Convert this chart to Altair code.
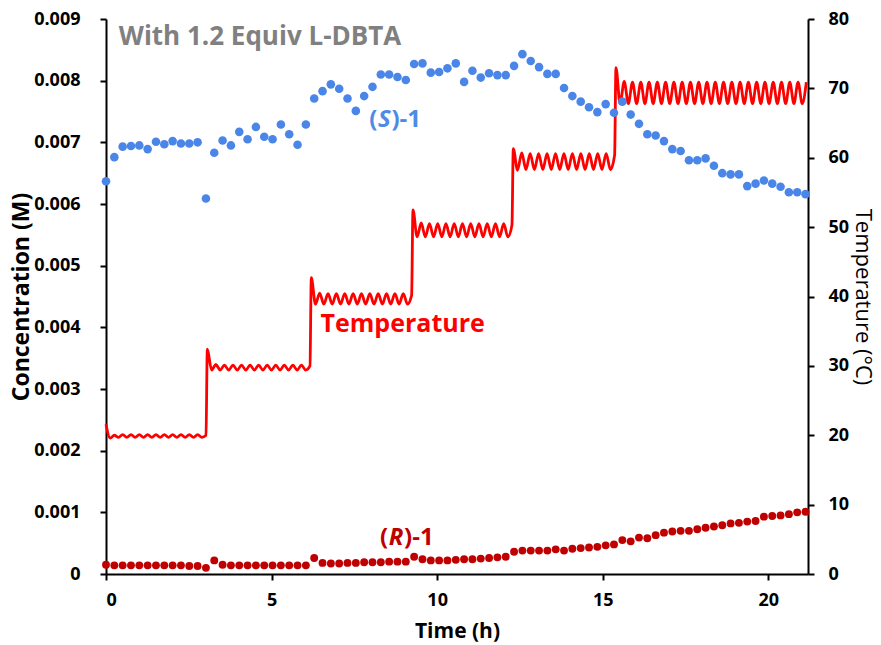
import altair as alt
import pandas as pd

# ---------------- data ----------------
n_samples = 85
sample_step_h = 0.2515
time_h = [round(i * sample_step_h, 4) for i in range(n_samples)]

# (S)-1 concentration, in mM (x 1e-3 M)
s1_mM = [6.37, 6.76, 6.93, 6.94, 6.95, 6.89, 7.01, 6.97, 7.02, 6.98, 6.98, 7.00,
         6.09, 6.83, 7.03, 6.95, 7.17, 7.05, 7.25, 7.09, 7.05, 7.29, 7.13, 6.96, 7.29,
         7.71, 7.83, 7.94, 7.87, 7.71, 7.51,
         7.75, 7.90, 8.10, 8.10, 8.06, 8.01, 8.27, 8.28, 8.13, 8.14, 8.20, 8.28, 7.98,
         8.16, 8.05, 8.12, 8.09, 8.09, 8.24, 8.43, 8.32, 8.22, 8.11, 8.11, 7.88, 7.75,
         7.66, 7.57, 7.49,
         7.62, 7.48, 7.66, 7.45, 7.30, 7.13, 7.11, 7.02, 6.89, 6.86, 6.71, 6.71, 6.74,
         6.62, 6.50, 6.48, 6.48, 6.29, 6.33, 6.38, 6.33, 6.28, 6.19, 6.19, 6.16]

# (R)-1 concentration, in mM
r1_mM = [0.15, 0.14, 0.14, 0.14, 0.14, 0.14, 0.14, 0.14, 0.14, 0.14, 0.13, 0.13,
         0.10, 0.22,
         0.15, 0.14, 0.14, 0.14, 0.14, 0.14, 0.14, 0.14, 0.14, 0.14, 0.14,
         0.26,
         0.18, 0.17, 0.17, 0.18, 0.18, 0.19, 0.19, 0.19, 0.20, 0.20, 0.20,
         0.28,
         0.24, 0.22, 0.22, 0.22, 0.23, 0.24, 0.24, 0.25, 0.26, 0.27, 0.28,
         0.36, 0.38, 0.38, 0.38, 0.38, 0.40, 0.38, 0.41, 0.42, 0.43, 0.44, 0.465,
         0.48, 0.55, 0.53, 0.59, 0.58, 0.63, 0.67, 0.69, 0.70, 0.70, 0.725, 0.75,
         0.77, 0.79, 0.82, 0.83, 0.85, 0.86, 0.93, 0.94, 0.95, 0.97, 1.00, 1.01]

# Temperature trace (deg C): one list of turning points per set-point plateau
temp_seg_start_h = [0.0, 3.06, 6.20, 9.27, 12.30, 15.40]
temp_seg_end_h = [3.02, 6.16, 9.23, 12.26, 15.36, 21.15]
temp_20 = [21.6, 19.6, 20.0, 19.7, 20.1, 19.7, 20.1, 19.7, 20.1, 19.7, 20.1, 19.7, 20.1,
           19.7, 20.1, 19.7, 20.1, 19.7, 20.1, 19.7, 20.1, 19.7, 20.1, 19.7, 20.0]
temp_30 = [32.4, 29.4, 30.2, 29.4, 30.1, 29.4, 30.1, 29.4, 30.1, 29.4, 30.1, 29.4, 30.1,
           29.4, 30.1, 29.4, 30.1, 29.4, 30.1, 29.4, 30.1, 29.4, 30.1, 29.4, 30.0]
temp_40 = [42.7, 38.9, 40.5, 38.9, 40.4, 38.9, 40.4, 38.9, 40.4, 38.9, 40.4, 38.9, 40.4,
           38.9, 40.4, 38.9, 40.4, 38.9, 40.4, 38.9, 40.4, 38.9, 40.4, 38.9, 40.2]
temp_50 = [52.5, 48.6, 50.6, 48.6, 50.5, 48.6, 50.5, 48.6, 50.5, 48.6, 50.5, 48.6, 50.5,
           48.6, 50.5, 48.6, 50.5, 48.6, 50.5, 48.6, 50.5, 48.6, 50.5, 48.6, 50.3]
temp_60 = [61.3, 58.2, 60.7, 58.3, 60.6, 58.3, 60.6, 58.3, 60.6, 58.3, 60.6, 58.3, 60.6,
           58.3, 60.6, 58.3, 60.6, 58.3, 60.6, 58.3, 60.6, 58.3, 60.6, 58.3, 60.4]
temp_70 = [73.0, 67.8, 71.0, 67.8, 70.9, 67.8, 70.9, 67.8, 70.9, 67.8, 70.9, 67.8, 70.9,
           67.8, 70.9, 67.8, 70.9, 67.8, 70.9, 67.8, 70.9, 67.8, 70.9, 67.8, 70.9, 67.8,
           70.9, 67.8, 70.9, 67.8, 70.9, 67.8, 70.9, 67.8, 70.9, 67.8, 70.9, 67.8, 70.9,
           67.8, 70.9, 67.8, 70.9, 67.8, 70.9, 67.8, 70.9]
temp_segments = [temp_20, temp_30, temp_40, temp_50, temp_60, temp_70]

# ---------------- tables ----------------
conc_s = pd.DataFrame({"t": time_h, "c": [v / 1000 for v in s1_mM]})
conc_r = pd.DataFrame({"t": time_h, "c": [v / 1000 for v in r1_mM]})

rows = []
for t0, t1, vals in zip(temp_seg_start_h, temp_seg_end_h, temp_segments):
    n = len(vals)
    for k, v in enumerate(vals):
        rows.append({"t": t0 + (t1 - t0) * k / (n - 1), "T": v})
temp_df = pd.DataFrame(rows)

FONT = "Open Sans"

x_enc = alt.X(
    "t:Q",
    scale=alt.Scale(domain=[0, 21.2], nice=False, zero=False),
    axis=alt.Axis(
        values=[0, 5, 10, 15, 20], format="d", title="Time (h)",
        labelFont=FONT, labelFontSize=18, labelFontWeight="bold", labelColor="black",
        labelPadding=11, tickSize=6, tickWidth=2, tickColor="black",
        domainWidth=2, domainColor="black", grid=False,
        titleFont=FONT, titleFontSize=21, titleFontWeight="bold", titleColor="black",
        titleBaseline="alphabetic", titleY=63,
    ),
)

yc_enc = alt.Y(
    "c:Q",
    scale=alt.Scale(domain=[0, 0.009], nice=False, zero=True),
    axis=alt.Axis(
        orient="left",
        values=[0, 0.001, 0.002, 0.003, 0.004, 0.005, 0.006, 0.007, 0.008, 0.009],
        labelExpr="datum.value == 0 ? '0' : format(datum.value, '.3f')",
        title="Concentration (M)",
        labelFont=FONT, labelFontSize=18, labelFontWeight="bold", labelColor="black",
        labelPadding=20, tickSize=6, tickWidth=2, tickColor="black",
        domainWidth=2, domainColor="black", grid=False,
        titleFont=FONT, titleFontSize=23, titleFontWeight="bold", titleColor="black",
        titlePadding=0,
    ),
)

yt_enc = alt.Y(
    "T:Q",
    scale=alt.Scale(domain=[0, 80], nice=False, zero=True),
    axis=alt.Axis(
        orient="right",
        values=[0, 10, 20, 30, 40, 50, 60, 70, 80],
        title="Temperature (°C)",
        labelFont=FONT, labelFontSize=18, labelFontWeight="bold", labelColor="black",
        labelPadding=14, tickSize=6, tickWidth=2, tickColor="black",
        domainWidth=2, domainColor="black", grid=False,
        titleFont=FONT, titleFontSize=22, titleFontWeight="normal", titleColor="black",
        titlePadding=2,
    ),
)

temp_line = alt.Chart(temp_df).mark_line(
    color="#FF0000", strokeWidth=2.8, interpolate="monotone"
).encode(x=x_enc, y=yt_enc)

s_pts = alt.Chart(conc_s).mark_circle(size=74, color="#4A86E8", opacity=1).encode(x=x_enc, y=yc_enc)
r_pts = alt.Chart(conc_r).mark_circle(size=62, color="#C00000", opacity=1).encode(x=x_enc, y=yc_enc)


def note(text, t, c, color, size, align="center", dx=0, style="normal", weight="bold"):
    return alt.Chart(pd.DataFrame({"t": [t], "c": [c]})).mark_text(
        text=text, font=FONT, fontSize=size, fontWeight=weight, fontStyle=style,
        color=color, align=align, baseline="alphabetic", dx=dx,
    ).encode(x=x_enc, y=yc_enc)


notes = [
    note("With 1.2 Equiv L-DBTA", 4.65, 0.008578, "#808080", 26),
    note("(", 8.41, 0.007253, "#4E8BE6", 24, align="right", dx=-7),
    note("S", 8.41, 0.007253, "#4E8BE6", 24, style="italic"),
    note(")-1", 8.41, 0.007253, "#4E8BE6", 24, align="left", dx=7),
    note("Temperature", 8.96, 0.00392, "#FF0000", 25),
    note("(", 8.76, 0.00047, "#C00000", 24, align="right", dx=-8),
    note("R", 8.76, 0.00047, "#C00000", 24, style="italic"),
    note(")-1", 8.76, 0.00047, "#C00000", 24, align="left", dx=8),
]

conc_layer = alt.layer(s_pts, r_pts, *notes)

chart = (
    alt.layer(temp_line, conc_layer)
    .resolve_scale(y="independent")
    .properties(
        width=702, height=555,
        autosize=alt.AutoSizeParams(type="none"),
        padding={"left": 106, "top": 19, "right": 73, "bottom": 71},
        background="white",
    )
    .configure_view(stroke=None)
)

chart.save("out.html", embed_options={"renderer": "svg", "actions": False})
